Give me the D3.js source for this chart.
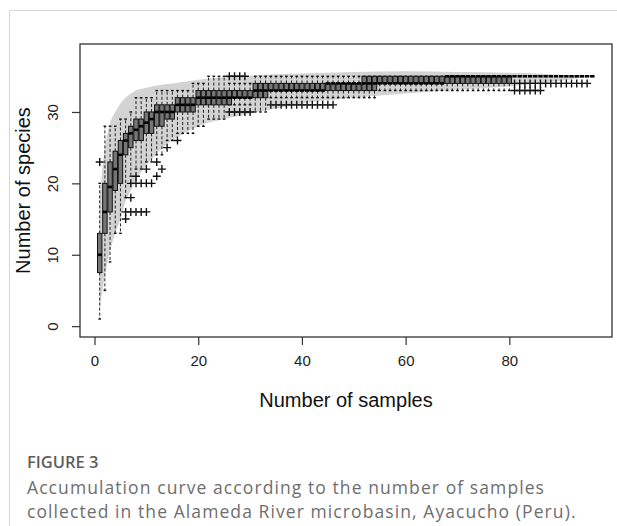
<!DOCTYPE html>
<html>
<head>
<meta charset="utf-8">
<script src="https://cdn.jsdelivr.net/npm/d3@7/dist/d3.min.js"></script>
<style>
  html, body { margin: 0; padding: 0; background: #fff; }
  svg { display: block; }
</style>
</head>
<body>
<svg id="chart" width="617" height="526"></svg>
<script>
// ---------- DATA ----------
const sampleN = d3.range(1, 97); // number of samples 1..96

const q1 = [7.5,13,16,19,20,24,25,26,26,27,27,28,28,29,29,
  30,30,30,30,
  31,31,31,31,31,31,31,
  32,32,32,32,32,32,32,
  33,33,33,33,33,33,33,33,33,33,33,33,33,33,33,33,33,33,33,33,33,
  34,34,34,34,34,34,34,34,34,34,34,34,34,34,34,34,34,34,34,34,34,34,34,34,34,34,
  35,35,35,35,35,35,35,35,35,35,35,35,35,35,35,35];

const med = [10,16,19.5,22,24,26,27,27.5,28,28.5,29,
  30,30,30,30,
  31,31,31,31,
  32,32,32,32,32,32,32,32,32,32,32,
  33,33,33,33,33,33,33,33,33,33,33,33,33,33,
  34,34,34,34,34,34,34,34,34,34,34,34,34,34,34,34,34,34,34,34,34,34,34,
  35,35,35,35,35,35,35,35,35,35,35,35,35,35,35,35,35,35,35,35,35,35,35,35,35,35,35,35,35];

const q3 = [13,20,23,24.5,26,27,28,29,29,30,30,
  31,31,31,31,
  32,32,32,32,
  33,33,33,33,33,33,33,33,33,33,33,
  34,34,34,34,34,34,34,34,34,34,34,34,34,34,34,34,34,34,34,34,34,
  35,35,35,35,35,35,35,35,35,35,35,35,35,35,35,35,35,35,35,35,35,35,35,35,35,35,35,35,35,35,35,35,35,35,35,35,35,35,35,35,35,35,35,35,35];

const whiskLo = [1,5,9,13,13,18,21,22,22,23,23,24,24,26,26,
  27,27,27,27,
  28,28,
  29,29,29,29,
  31,31,31,31,31,
  30,30,30,
  32,32,32,32,32,32,32,32,32,32,32,32,32,32,32,32,32,32,32,32,32,
  33,33,33,33,33,33,33,33,33,33,33,33,33,33,33,33,33,33,33,33,33,33,33,33,33,33,
  35,35,35,35,35,35,35,35,35,35,35,35,35,35,35,35];

const whiskHi = [20,28,28,28,29,29,30,32,32,32,32,
  33,33,33,33,33,33,33,
  34,34,34,
  35,35,35,35,
  34,34,34,34,34,
  35,35,35,35,35,35,35,35,35,35,35,35,35,35,35,35,35,35,35,35,35,35,35,35,35,35,35,35,35,35,35,35,35,
  35,35,35,35,35,35,35,35,35,35,35,35,35,35,35,35,35,35,35,35,35,35,35,35,35,35,35,35,35,35,35,35,35,35,35,35,35,35,35,35,35,35,35,35,35,35,35,35,35];

const outlierN = [1,6,6,7,8,9,10,7,7,8,9,10,11,8,10,12,12,13,14,16,
  26,27,28,29,
  26,27,28,29,30,
  34,35,36,37,38,39,40,41,42,43,44,45,46,
  81,82,83,84,85,86,87,88,89,90,91,92,93,94,95,
  81,82,83,84,85,86];
const outlierV = [23,15,16,16,16,16,16,18,20,20,20,20,20,21,22,21,23,22,25,26,
  35,35,35,35,
  30,30,30,30,30,
  31,31,31,31,31,31,31,31,31,31,31,31,31,
  34,34,34,34,34,34,34,34,34,34,34,34,34,34,34,
  33,33,33,33,33,33];

// confidence polygon (mean +/- 2 sd), read at selected sample numbers
const bandN  = [1,2,3,4,5,6,7,8,10,12,14,16,18,20,25,30,35,40,50,60,70,80,88,96];
const bandHi = [18,25,28.4,30,31.2,32,32.6,33,33.4,33.7,33.9,34.1,34.3,34.5,34.9,35.1,35.3,35.4,35.6,35.7,35.6,35.5,35.3,35];
const bandLo = [2.5,7,10.5,13,15,17.5,19,20.5,22.5,24.2,25.5,26.5,27.3,28,29,29.8,30.5,31.2,32,32.6,33.1,33.6,34.2,35];

const xTicks = [0,20,40,60,80];
const yTicks = [0,10,20,30];

const xTitle = "Number of samples";
const yTitle = "Number of species";
const figLabel = "FIGURE 3";
const captionLines = [
  "Accumulation curve according to the number of samples",
  "collected in the Alameda River microbasin, Ayacucho (Peru)."
];

// ---------- LAYOUT ----------
const svg = d3.select("#chart");
const plot = {left: 80, right: 612, top: 44, bottom: 337};

const x = d3.scaleLinear().domain([-2.8, 99.8]).range([plot.left, plot.right]);
const y = d3.scaleLinear().domain([-1.52, 39.52]).range([plot.bottom, plot.top]);

// card border
svg.append("line").attr("x1", 9.5).attr("x2", 617).attr("y1", 10.5).attr("y2", 10.5)
  .attr("stroke", "#d6d6d6").attr("stroke-width", 1);
svg.append("line").attr("x1", 9.5).attr("x2", 9.5).attr("y1", 10.5).attr("y2", 526)
  .attr("stroke", "#d6d6d6").attr("stroke-width", 1);

// confidence band
const bandData = bandN.map((n, i) => ({n, lo: bandLo[i], hi: bandHi[i]}));
svg.append("path")
  .datum(bandData)
  .attr("fill", "#d3d3d3")
  .attr("d", d3.area().x(d => x(d.n)).y0(d => y(d.lo)).y1(d => y(d.hi)).curve(d3.curveMonotoneX));

// boxplots
const step = x(1) - x(0);
const bw = step * 0.85;
const sw = bw * 0.6;
const boxes = sampleN.map((n, i) => ({n, q1: q1[i], med: med[i], q3: q3[i], lo: whiskLo[i], hi: whiskHi[i]}));
const g = svg.append("g");

boxes.forEach(d => {
  const cx = x(d.n);
  const gg = g.append("g");
  if (d.hi > d.q3) {
    gg.append("line").attr("x1", cx).attr("x2", cx).attr("y1", y(d.q3)).attr("y2", y(d.hi))
      .attr("stroke", "#222").attr("stroke-width", 1).attr("stroke-dasharray", "3,2");
  }
  if (d.lo < d.q1) {
    gg.append("line").attr("x1", cx).attr("x2", cx).attr("y1", y(d.q1)).attr("y2", y(d.lo))
      .attr("stroke", "#222").attr("stroke-width", 1).attr("stroke-dasharray", "3,2");
  }
  [d.hi, d.lo].forEach(v => {
    gg.append("line").attr("x1", cx - sw / 2).attr("x2", cx + sw / 2).attr("y1", y(v)).attr("y2", y(v))
      .attr("stroke", "#111").attr("stroke-width", 1.4);
  });
  gg.append("rect")
    .attr("x", cx - bw / 2).attr("width", bw)
    .attr("y", y(d.q3)).attr("height", Math.max(0, y(d.q1) - y(d.q3)))
    .attr("fill", "#767676").attr("stroke", "#111").attr("stroke-width", 1);
  gg.append("line").attr("x1", cx - bw / 2).attr("x2", cx + bw / 2).attr("y1", y(d.med)).attr("y2", y(d.med))
    .attr("stroke", "#000").attr("stroke-width", 2.6);
});

// outliers "+"
const outs = outlierN.map((n, i) => ({n, v: outlierV[i]}));
svg.append("g").selectAll("path").data(outs).join("path")
  .attr("d", d => `M${x(d.n) - 4},${y(d.v)}h8M${x(d.n)},${y(d.v) - 4}v8`)
  .attr("stroke", "#111").attr("stroke-width", 1.4).attr("fill", "none");

// frame
svg.append("rect").attr("x", plot.left).attr("y", plot.top)
  .attr("width", plot.right - plot.left).attr("height", plot.bottom - plot.top)
  .attr("fill", "none").attr("stroke", "#333").attr("stroke-width", 1.3);

// axes
const xAxis = d3.axisBottom(x).tickValues(xTicks).tickSize(8).tickPadding(10).tickFormat(d3.format("d"));
const xg = svg.append("g").attr("transform", `translate(0,${plot.bottom})`).call(xAxis);
xg.select(".domain").remove();
xg.selectAll("line").attr("stroke", "#333").attr("stroke-width", 1.2);
xg.selectAll("text").attr("font-family", "'Liberation Sans', Arial, sans-serif")
  .attr("font-size", 15).attr("fill", "#222");

const yAxis = d3.axisLeft(y).tickValues(yTicks).tickSize(8).tickPadding(0).tickFormat(d3.format("d"));
const yg = svg.append("g").attr("transform", `translate(${plot.left},0)`).call(yAxis);
yg.select(".domain").remove();
yg.selectAll("line").attr("stroke", "#333").attr("stroke-width", 1.2);
yg.selectAll("text")
  .attr("font-family", "'Liberation Sans', Arial, sans-serif")
  .attr("font-size", 15).attr("fill", "#222")
  .attr("x", null)
  .attr("text-anchor", "middle")
  .attr("transform", `translate(-27,0) rotate(-90)`)
  .attr("dy", "0.35em");

// axis titles
svg.append("text").text(xTitle)
  .attr("x", (plot.left + plot.right) / 2).attr("y", 407)
  .attr("text-anchor", "middle")
  .attr("font-family", "'Liberation Sans', Arial, sans-serif")
  .attr("font-size", 20).attr("fill", "#111");

svg.append("text").text(yTitle)
  .attr("transform", `translate(30,${(plot.top + plot.bottom) / 2}) rotate(-90)`)
  .attr("text-anchor", "middle")
  .attr("font-family", "'Liberation Sans', Arial, sans-serif")
  .attr("font-size", 20).attr("fill", "#111");

// caption
svg.append("text").text(figLabel)
  .attr("x", 27).attr("y", 468)
  .attr("font-family", "'Open Sans', Lato, sans-serif")
  .attr("font-weight", 600)
  .attr("font-size", 16.5).attr("fill", "#5e5e5e");

const capY = [494, 518];
const capTargetW = 518;
let capSpacing = 0;
captionLines.forEach((t, i) => {
  const el = svg.append("text").text(t)
    .attr("x", 27).attr("y", capY[i])
    .attr("font-family", "'Open Sans', Lato, sans-serif")
    .attr("font-size", 17.5).attr("fill", "#6e6e6e");
  if (i === 0) {
    const w = el.node().getComputedTextLength();
    capSpacing = (capTargetW - w) / t.length;
  }
  el.attr("letter-spacing", capSpacing);
});
</script>
</body>
</html>
